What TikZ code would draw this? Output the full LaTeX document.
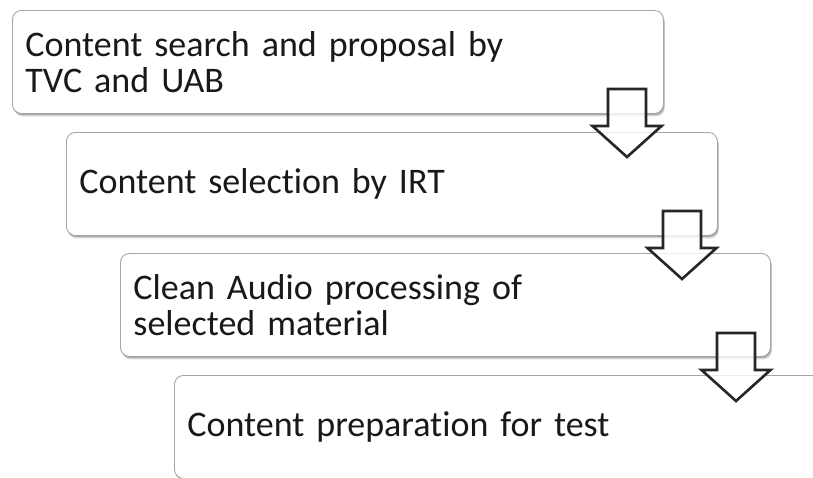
\documentclass[tikz,border=0pt]{standalone}
\usepackage{fontspec}
\setmainfont[Ligatures={NoCommon}]{Carlito}
\usetikzlibrary{shadows}
\definecolor{boxline}{HTML}{A6A6A6}
\definecolor{arrowline}{HTML}{262626}
\tikzset{
  stepbox/.style={
    draw=boxline, line width=0.9pt, fill=white, rounded corners=9pt,
    anchor=north west, minimum height=103pt, inner xsep=13pt, inner ysep=0pt,
    align=left, font=\fontsize{36}{36.5}\selectfont, text=black!90,
    drop shadow={shadow xshift=1.5pt, shadow yshift=-3pt, opacity=0.16, fill=black},
    drop shadow={shadow xshift=0.8pt, shadow yshift=-1.5pt, opacity=0.22, fill=black}
  },
  arrowstyle/.style={draw=arrowline, line width=2.6pt, fill=white, fill opacity=0.8, line join=miter},
  downarrow/.pic={
    \draw[arrowstyle] (-19,0) -- (19,0) -- (19,37) -- (34.5,37) -- (0,68)
      -- (-34.5,37) -- (-19,37) -- cycle;
  }
}
\begin{document}
\begin{tikzpicture}[x=1pt,y=-1pt]
  \useasboundingbox (0,0) rectangle (813,477);
  \clip (0,0) rectangle (813,477);
  \fill[white] (0,0) rectangle (813,477);

  \node[stepbox, minimum width=651pt, text width=625pt] (b1) at (12,10)
    {Content search and proposal by\\TVC and UAB};
  \node[stepbox, minimum width=651pt, text width=625pt] (b2) at (66,132)
    {Content selection by IRT};
  \node[stepbox, minimum width=650pt, text width=624pt] (b3) at (120,253)
    {Clean Audio processing of\\selected material};
  \node[stepbox, minimum width=700pt, text width=674pt] (b4) at (174,375)
    {Content preparation for test};

  \coordinate (a1) at (627,89);
  \coordinate (a2) at (682,211);
  \coordinate (a3) at (736,333);
  \pic at (a1) {downarrow};
  \pic at (a2) {downarrow};
  \pic at (a3) {downarrow};
\end{tikzpicture}
\end{document}
